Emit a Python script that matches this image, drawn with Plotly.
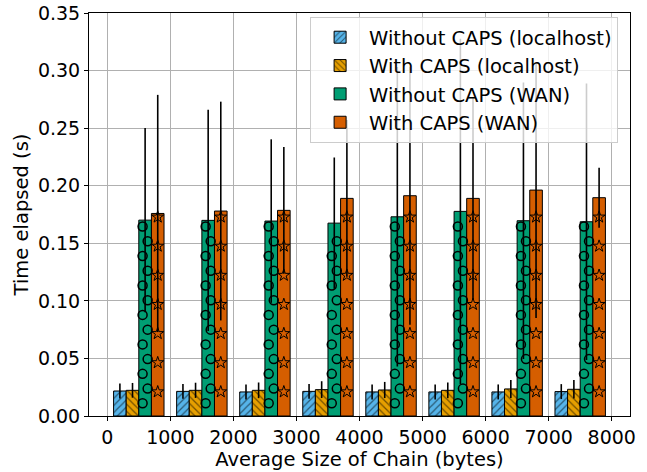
import numpy as np
import plotly.graph_objects as go

# ---------------- data ----------------
chain_sizes = [500, 1500, 2500, 3500, 4500, 5500, 6500, 7500]
x_tick_vals = [0, 1000, 2000, 3000, 4000, 5000, 6000, 7000, 8000]
y_tick_vals = [0.00, 0.05, 0.10, 0.15, 0.20, 0.25, 0.30, 0.35]

series_names = ["Without CAPS (localhost)", "With CAPS (localhost)",
                "Without CAPS (WAN)", "With CAPS (WAN)"]

local_without = [0.0217, 0.0214, 0.0209, 0.0214, 0.0209, 0.0209, 0.0209, 0.0212]
local_without_err = [0.0065, 0.0065, 0.0065, 0.0065, 0.0065, 0.0065, 0.0065, 0.0065]
local_with = [0.0223, 0.0223, 0.0223, 0.0229, 0.0226, 0.0223, 0.0235, 0.0232]
local_with_err = [0.0064, 0.0066, 0.0068, 0.0073, 0.0070, 0.0068, 0.0078, 0.0080]
wan_without = [0.1701, 0.1699, 0.1693, 0.1675, 0.1730, 0.1777, 0.1696, 0.1687]
wan_without_err = [0.080, 0.096, 0.071, 0.057, 0.130, 0.150, 0.120, 0.120]
wan_with = [0.1759, 0.1780, 0.1786, 0.1890, 0.1913, 0.1890, 0.1962, 0.1896]
wan_with_err = [0.103, 0.095, 0.055, 0.068, 0.112, 0.088, 0.111, 0.026]

# ---------------- style ----------------
colors = ["#56B4E9", "#E69F00", "#009E73", "#D55E00"]
patterns = ["/", "\\", "", ""]
FONT = "DejaVu Sans, Liberation Sans, sans-serif"

values = [local_without, local_with, wan_without, wan_with]
errors = [local_without_err, local_with_err, wan_without_err, wan_with_err]

fig = go.Figure()
for i, (name, vals, errs, col, pat) in enumerate(
        zip(series_names, values, errors, colors, patterns)):
    marker = dict(color=col, line=dict(color="black", width=1))
    if pat:
        marker["pattern"] = dict(shape=pat, fgcolor="black", bgcolor=col,
                                 size=5, solidity=0.25, fillmode="overlay")
    fig.add_trace(go.Bar(
        x=chain_sizes, y=vals, name=name, marker=marker,
        legendgroup=f"g{i}",
        error_y=dict(type="data", array=errs, visible=True,
                     color="black", thickness=1.6, width=0),
    ))

# hatch-like decoration for WAN bars (circles / stars), derived from bar values
bar_w = 200.0
offsets = [-1.5 * bar_w, -0.5 * bar_w, 0.5 * bar_w, 1.5 * bar_w]

cx, cy = [], []
for xc, v in zip(chain_sizes, wan_without):
    k = 0
    y = 0.011
    while y < v - 0.003:
        cx.append(xc + offsets[2] + (-40 if k % 2 == 0 else 40))
        cy.append(y)
        y += 0.0128
        k += 1
fig.add_trace(go.Scatter(x=cx, y=cy, mode="markers", showlegend=False,
                         hoverinfo="skip",
                         marker=dict(symbol="circle-open", size=9,
                                     color="black", line=dict(width=1.5))))

sx, sy = [], []
for xc, v in zip(chain_sizes, wan_with):
    y = 0.021
    while y < v - 0.003:
        sx.append(xc + offsets[3])
        sy.append(y)
        y += 0.0253
fig.add_trace(go.Scatter(x=sx, y=sy, mode="markers", showlegend=False,
                         hoverinfo="skip",
                         marker=dict(symbol="star-open", size=9,
                                     color="black", line=dict(width=1))))

axis_common = dict(
    showgrid=True, gridcolor="#b0b0b0", gridwidth=1,
    showline=True, linecolor="black", linewidth=1, mirror=True,
    ticks="outside", ticklen=4, tickcolor="black", tickwidth=1,
    zeroline=False, automargin=False,
    tickfont=dict(family=FONT, size=19, color="black"),
)

fig.update_layout(
    width=647, height=472,
    margin=dict(l=89, r=17, t=13, b=56),
    paper_bgcolor="white", plot_bgcolor="white",
    font=dict(family=FONT, size=19, color="black"),
    barmode="group", bargap=0.2, bargroupgap=0,
    xaxis=dict(range=[-290, 8290], tickvals=x_tick_vals,
               title=dict(text="Average Size of Chain (bytes)",
                          font=dict(family=FONT, size=19.5), standoff=0),
               **axis_common),
    yaxis=dict(range=[0, 0.35], tickvals=y_tick_vals, tickformat=".2f",
               ticklabeloverflow="allow",
               title=dict(text="Time elapsed (s)",
                          font=dict(family=FONT, size=19.5), standoff=4),
               **axis_common),
    legend=dict(x=0.978, y=0.99, xanchor="right", yanchor="top",
                bgcolor="rgba(255,255,255,0.8)", bordercolor="#cccccc",
                borderwidth=1, font=dict(family=FONT, size=19.5),
                tracegroupgap=0, traceorder="grouped", itemwidth=48),
    showlegend=True,
)

# remove the default page margin so the figure fills the window exactly
fig.write_html("out.html", config={"displayModeBar": False},
               post_script="document.body.style.margin='0';")
